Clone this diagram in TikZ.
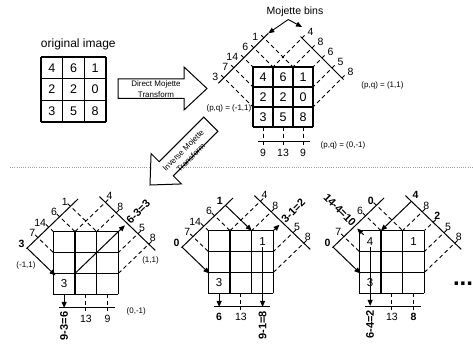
\documentclass[tikz,border=0pt]{standalone}
\usepackage{fontspec}
\setmainfont{Liberation Sans}
\usetikzlibrary{arrows.meta}
\newcommand{\mkcoords}[3]{%
  \foreach \bk in {1,...,5}{%
    \pgfmathsetmacro{\bj}{\bk-3}%
    \pgfmathsetmacro{\lex}{max(0,\bk-3)}%
    \pgfmathsetmacro{\ley}{min(3,\bk)}%
    \pgfmathsetmacro{\rex}{min(3,3+(\bj))}%
    \pgfmathsetmacro{\rey}{min(3,3-(\bj))}%
    \coordinate (#1L\bk) at ({(\bk-#2)/2},{(\bk+#2)/2});%
    \coordinate (#1Lo\bk) at ({(\bk-#2)/2-0.13},{(\bk+#2)/2+0.13});%
    \coordinate (#1Le\bk) at (\lex,\ley);%
    \coordinate (#1R\bk) at ({(#3+(\bj))/2},{(#3-(\bj))/2});%
    \coordinate (#1Ro\bk) at ({(#3+(\bj))/2+0.13},{(#3-(\bj))/2+0.13});%
    \coordinate (#1Re\bk) at (\rex,\rey);%
  }%
  \foreach \bc in {1,2,3}{\coordinate (#1Bt\bc) at (\bc-0.5,0);}%
}
\tikzset{
  gridline/.style={line width=1.3pt},
  projline/.style={line width=1pt},
  binray/.style={line width=0.9pt, dash pattern=on 4pt off 3pt},
  solidray/.style={line width=1pt, -{Triangle[length=6pt,width=5pt]}},
  mbarrow/.style={line width=0.9pt, -{Triangle[length=6pt,width=5pt]}},
  bigarrow/.style={draw, line width=1pt, fill=white, line join=miter},
  arrowtxt/.style={inner sep=0pt, align=center, font=\fontsize{8}{10.5}\selectfont},
  celltxt/.style={inner sep=0pt, font=\fontsize{12.5}{14}\selectfont},
  smallcell/.style={inner sep=0pt, font=\fontsize{11.5}{13}\selectfont},
  binlbl/.style={inner sep=0.5pt, font=\fontsize{10.5}{12}\selectfont},
  eqlbl/.style={inner sep=0.5pt, font=\bfseries\fontsize{11}{12}\selectfont},
  pqlbl/.style={inner sep=0pt, font=\fontsize{8}{9}\selectfont},
}
\begin{document}
\begin{tikzpicture}[x=1pt,y=-1pt]
\useasboundingbox (0,0) rectangle (473,347);
\fill[white] (0,0) rectangle (473,347);

% ---------- original image ----------
\node[font=\fontsize{12}{14}\selectfont] (origlbl) at (78.3,44) {original image};
\begin{scope}[shift={(41,122)},x=21.67pt,y=21.67pt]
  \draw[gridline,step=1] (0,0) grid (3,3);
  \foreach \v [count=\ci from 0] in {4,6,1,2,2,0,3,5,8}{%
    \pgfmathtruncatemacro{\cc}{mod(\ci,3)}%
    \pgfmathtruncatemacro{\rr}{2-floor(\ci/3)}%
    \node[celltxt] (o\ci) at (\cc+0.5,\rr+0.5) {\v};}
\end{scope}

% ---------- direct transform arrow ----------
\draw[bigarrow] (118,79) -- (184,79) -- (184,67) -- (207,88.5) -- (184,110) -- (184,98.5) -- (118,98.5) -- cycle;
\node[arrowtxt] (dmt) at (156,89) {Direct Mojette\\Transform};

% ---------- top projection panel ----------
\begin{scope}[shift={(253,127)},x=20pt,y=20pt]
  \mkcoords{T}{3.92}{6.9}
  \foreach \bk in {1,...,5}{\draw[binray] (TLo\bk) -- (TLe\bk); \draw[binray] (TRo\bk) -- (TRe\bk);}
  \foreach \bc in {1,2,3}{\draw[binray] (TBt\bc) -- ++(0,-0.9);}
  \draw[gridline,step=1] (0,0) grid (3,3);
  \foreach \v [count=\ci from 0] in {4,6,1,2,2,0,3,5,8}{%
    \pgfmathtruncatemacro{\cc}{mod(\ci,3)}%
    \pgfmathtruncatemacro{\rr}{2-floor(\ci/3)}%
    \node[celltxt] (t\ci) at (\cc+0.5,\rr+0.5) {\v};}
  \coordinate (TLa) at (-1.735,2.185); \coordinate (TLb) at (0.765,4.685);
  \coordinate (TRa) at (2.375,4.525); \coordinate (TRb) at (4.525,2.375);
  \coordinate (TBa) at (0.27,-0.75); \coordinate (TBb) at (2.85,-0.75);
  \draw[projline] (TLa) -- (TLb);
  \draw[projline] (TRa) -- (TRb);
  \draw[projline] (TBa) -- (TBb);
  \foreach \bk/\txt in {1/3,2/7,3/14,4/6,5/1}
    \node[binlbl,anchor=east,xshift=-5pt,yshift=1pt] (Tl\bk) at (TL\bk) {\txt};
  \foreach \bk/\txt in {1/4,2/8,3/6,4/5,5/8}
    \node[binlbl,anchor=west,xshift=5pt,yshift=6pt] (Tr\bk) at (TR\bk) {\txt};
  \foreach \bc/\txt in {1/9,2/13,3/9}
    \node[binlbl] (Tb\bc) at (\bc-0.5,-1.3) {\txt};
\end{scope}

\node[font=\fontsize{10.5}{12}\selectfont] (mb) at (295,12) {Mojette bins};
\coordinate (mbA) at (288.3,19.5);
\coordinate (mbR) at (302,27);
\draw[mbarrow] (mbA) -- (TLb);
\draw[mbarrow] (mbA) -- (mbR);

\node[pqlbl] (pq1) at (382.5,85) {(p,q) = (1,1)};
\node[pqlbl,anchor=east] (pq2) at (251.5,108.3) {(p,q) = (-1,1)};
\node[pqlbl] (pq3) at (343,145.7) {(p,q) = (0,-1)};

% ---------- separator ----------
\coordinate (dl) at (10,167);
\coordinate (dr) at (473,167);
\draw[gray!75,line width=0.8pt,dash pattern=on 1pt off 1.2pt] (dl) -- (dr);

% ---------- inverse transform arrow ----------
\draw[bigarrow] (203.74,117.12) -- (159.19,161.67) -- (151.06,153.54) -- (150,185) -- (181.46,183.94) -- (173.33,175.81) -- (217.88,131.26) -- cycle;
\node[arrowtxt,rotate=45] (imt) at (187,154) {Inverse Mojette\\Transform};

% ---------- panel 1 ----------
\begin{scope}[shift={(53.3,294.3)},x=21.7pt,y=20.9pt]
  \mkcoords{A}{3.42}{6.8}
  \foreach \bk in {2,3,4,5}{\draw[binray] (ALo\bk) -- (ALe\bk);}
  \foreach \bk in {1,2,4,5}{\draw[binray] (ARo\bk) -- (ARe\bk);}
  \foreach \bc in {2,3}{\draw[binray] (ABt\bc) -- ++(0,-0.78);}
  \draw[gridline,step=1] (0,0) grid (3,3);
  \node[smallcell] (a00) at (0.5,0.5) {3};
  \coordinate (ALa) at ({(0.95-3.42)/2},{(0.95+3.42)/2});
  \coordinate (ALb) at ({(5.7-3.42)/2},{(5.7+3.42)/2});
  \coordinate (ARa) at ({(6.8-2.55)/2},{(6.8+2.55)/2});
  \coordinate (ARb) at ({(6.8+2.6)/2},{(6.8-2.6)/2});
  \coordinate (ABa) at (0.27,-0.65); \coordinate (ABb) at (2.85,-0.65);
  \draw[projline] (ALa) -- (ALb);
  \draw[projline] (ARa) -- (ARb);
  \draw[projline] (ABa) -- (ABb);
  \coordinate (Aa1) at (0.1,0.9);
  \coordinate (Ad0) at (1,1); \coordinate (Ad1) at (3.3,3.3);
  \coordinate (Av1) at (0.5,-0.65);
  \draw[solidray] (AL1) -- (Aa1);
  \draw[solidray] (Ad0) -- (Ad1);
  \draw[solidray] (ABt1) -- (Av1);
  \foreach \bk/\txt in {1/\textbf{3},2/7,3/14,4/6,5/1}
    \node[binlbl,anchor=east,xshift=-2pt,yshift=4.5pt] (Al\bk) at (AL\bk) {\txt};
  \foreach \bk/\txt in {1/4,2/8,4/5,5/8}
    \node[binlbl,anchor=west,xshift=0.5pt,yshift=6pt] (Ar\bk) at (AR\bk) {\txt};
  \node[eqlbl,rotate=45,anchor=west,xshift=1pt] (Ar3) at (AR3) {6-3=3};
  \node[eqlbl,rotate=90,anchor=east] (Ab1) at (0.5,-0.8) {9-3=6};
  \node[binlbl] (Ab2) at (1.5,-1.17) {13};
  \node[binlbl] (Ab3) at (2.5,-1.17) {9};
\end{scope}
\node[pqlbl] (pqa1) at (26,265) {(-1,1)};
\node[pqlbl] (pqa2) at (150.5,260) {(1,1)};
\node[pqlbl] (pqa3) at (136.3,311.7) {(0,-1)};

% ---------- panel 2 ----------
\begin{scope}[shift={(208.3,293.3)},x=21.7pt,y=20.9pt]
  \mkcoords{B}{3.42}{6.8}
  \foreach \bk in {2,3,4}{\draw[binray] (BLo\bk) -- (BLe\bk);}
  \foreach \bk in {1,2,4,5}{\draw[binray] (BRo\bk) -- (BRe\bk);}
  \foreach \bc in {2}{\draw[binray] (BBt\bc) -- ++(0,-0.78);}
  \draw[gridline,step=1] (0,0) grid (3,3);
  \node[smallcell] (b22) at (2.5,2.5) {1};
  \node[smallcell] (b00) at (0.5,0.5) {3};
  \coordinate (BLa) at ({(0.95-3.42)/2},{(0.95+3.42)/2});
  \coordinate (BLb) at ({(5.7-3.42)/2},{(5.7+3.42)/2});
  \coordinate (BRa) at ({(6.8-2.55)/2},{(6.8+2.55)/2});
  \coordinate (BRb) at ({(6.8+2.6)/2},{(6.8-2.6)/2});
  \coordinate (BBa) at (0.27,-0.65); \coordinate (BBb) at (2.85,-0.65);
  \draw[projline] (BLa) -- (BLb);
  \draw[projline] (BRa) -- (BRb);
  \draw[projline] (BBa) -- (BBb);
  \coordinate (Ba1) at (0.05,0.95);
  \coordinate (Ba5) at (2,3);
  \coordinate (Bd0) at (2.97,2.97); \coordinate (Bd1) at (3.28,3.28);
  \coordinate (Bu0) at (2.5,2.2); \coordinate (Bu1) at (2.5,-0.65);
  \coordinate (Bv1) at (0.5,-0.65);
  \draw[solidray] (BL1) -- (Ba1);
  \draw[solidray] (BL5) -- (Ba5);
  \draw[solidray] (Bd0) -- (Bd1);
  \draw[solidray] (Bu0) -- (Bu1);
  \draw[solidray] (BBt1) -- (Bv1);
  \foreach \bk/\txt in {1/\textbf{0},2/7,3/14,4/6,5/\textbf{1}}
    \node[binlbl,anchor=east,xshift=-2pt,yshift=4.5pt] (Bl\bk) at (BL\bk) {\txt};
  \foreach \bk/\txt in {1/4,2/8,4/5,5/8}
    \node[binlbl,anchor=west,xshift=0.5pt,yshift=6pt] (Br\bk) at (BR\bk) {\txt};
  \node[eqlbl,rotate=45,anchor=west,xshift=1pt] (Br3) at (BR3) {3-1=2};
  \node[binlbl,font=\bfseries\fontsize{10.5}{12}\selectfont] (Bb1) at (0.5,-1.12) {6};
  \node[binlbl] (Bb2) at (1.5,-1.15) {13};
  \node[eqlbl,rotate=90,anchor=east] (Bb3) at (2.5,-0.82) {9-1=8};
\end{scope}

% ---------- panel 3 ----------
\begin{scope}[shift={(359.3,293.3)},x=21.7pt,y=20.9pt]
  \mkcoords{C}{3.42}{6.8}
  \foreach \bk in {2,4,5}{\draw[binray] (CLo\bk) -- (CLe\bk);}
  \foreach \bk in {2,3,4,5}{\draw[binray] (CRo\bk) -- (CRe\bk);}
  \foreach \bc in {2,3}{\draw[binray] (CBt\bc) -- ++(0,-0.78);}
  \draw[gridline,step=1] (0,0) grid (3,3);
  \node[smallcell] (c02) at (0.5,2.5) {4};
  \node[smallcell] (c22) at (2.5,2.5) {1};
  \node[smallcell] (c00) at (0.5,0.5) {3};
  \coordinate (CLa) at ({(0.95-3.42)/2},{(0.95+3.42)/2});
  \coordinate (CLb) at ({(5.7-3.42)/2},{(5.7+3.42)/2});
  \coordinate (CRa) at ({(6.8-2.55)/2},{(6.8+2.55)/2});
  \coordinate (CRb) at ({(6.8+2.6)/2},{(6.8-2.6)/2});
  \coordinate (CBa) at (0.27,-0.65); \coordinate (CBb) at (2.85,-0.65);
  \draw[projline] (CLa) -- (CLb);
  \draw[projline] (CRa) -- (CRb);
  \draw[projline] (CBa) -- (CBb);
  \coordinate (Ca1) at (0.05,0.95);
  \coordinate (Cc0) at (0.2,2.8); \coordinate (Cc1) at (-0.1,3.1);
  \coordinate (Ce1) at (1,3);
  \coordinate (Cu0) at (0.5,2.2); \coordinate (Cu1) at (0.5,-0.6);
  \draw[solidray] (CL1) -- (Ca1);
  \draw[solidray] (Cc0) -- (Cc1);
  \draw[solidray] (CR1) -- (Ce1);
  \draw[solidray] (Cu0) -- (Cu1);
  \foreach \bk/\txt in {1/\textbf{0},2/7,4/6,5/\textbf{0}}
    \node[binlbl,anchor=east,xshift=-2pt,yshift=4.5pt] (Cl\bk) at (CL\bk) {\txt};
  \node[eqlbl,rotate=-45,anchor=east,xshift=-1pt,yshift=1pt] (Cl3) at (CL3) {14-4=10};
  \foreach \bk/\txt in {1/\textbf{4},2/8,3/\textbf{2},4/5,5/8}
    \node[binlbl,anchor=west,xshift=0.5pt,yshift=6pt] (Cr\bk) at (CR\bk) {\txt};
  \node[eqlbl,rotate=90,anchor=east] (Cb1) at (0.5,-0.78) {6-4=2};
  \node[binlbl] (Cb2) at (1.5,-1.15) {13};
  \node[binlbl,font=\bfseries\fontsize{10.5}{12}\selectfont] (Cb3) at (2.5,-1.12) {8};
\end{scope}

\node[inner sep=0pt,font=\bfseries\fontsize{24}{24}\selectfont] (more) at (463,284) {...};
\end{tikzpicture}
\end{document}
